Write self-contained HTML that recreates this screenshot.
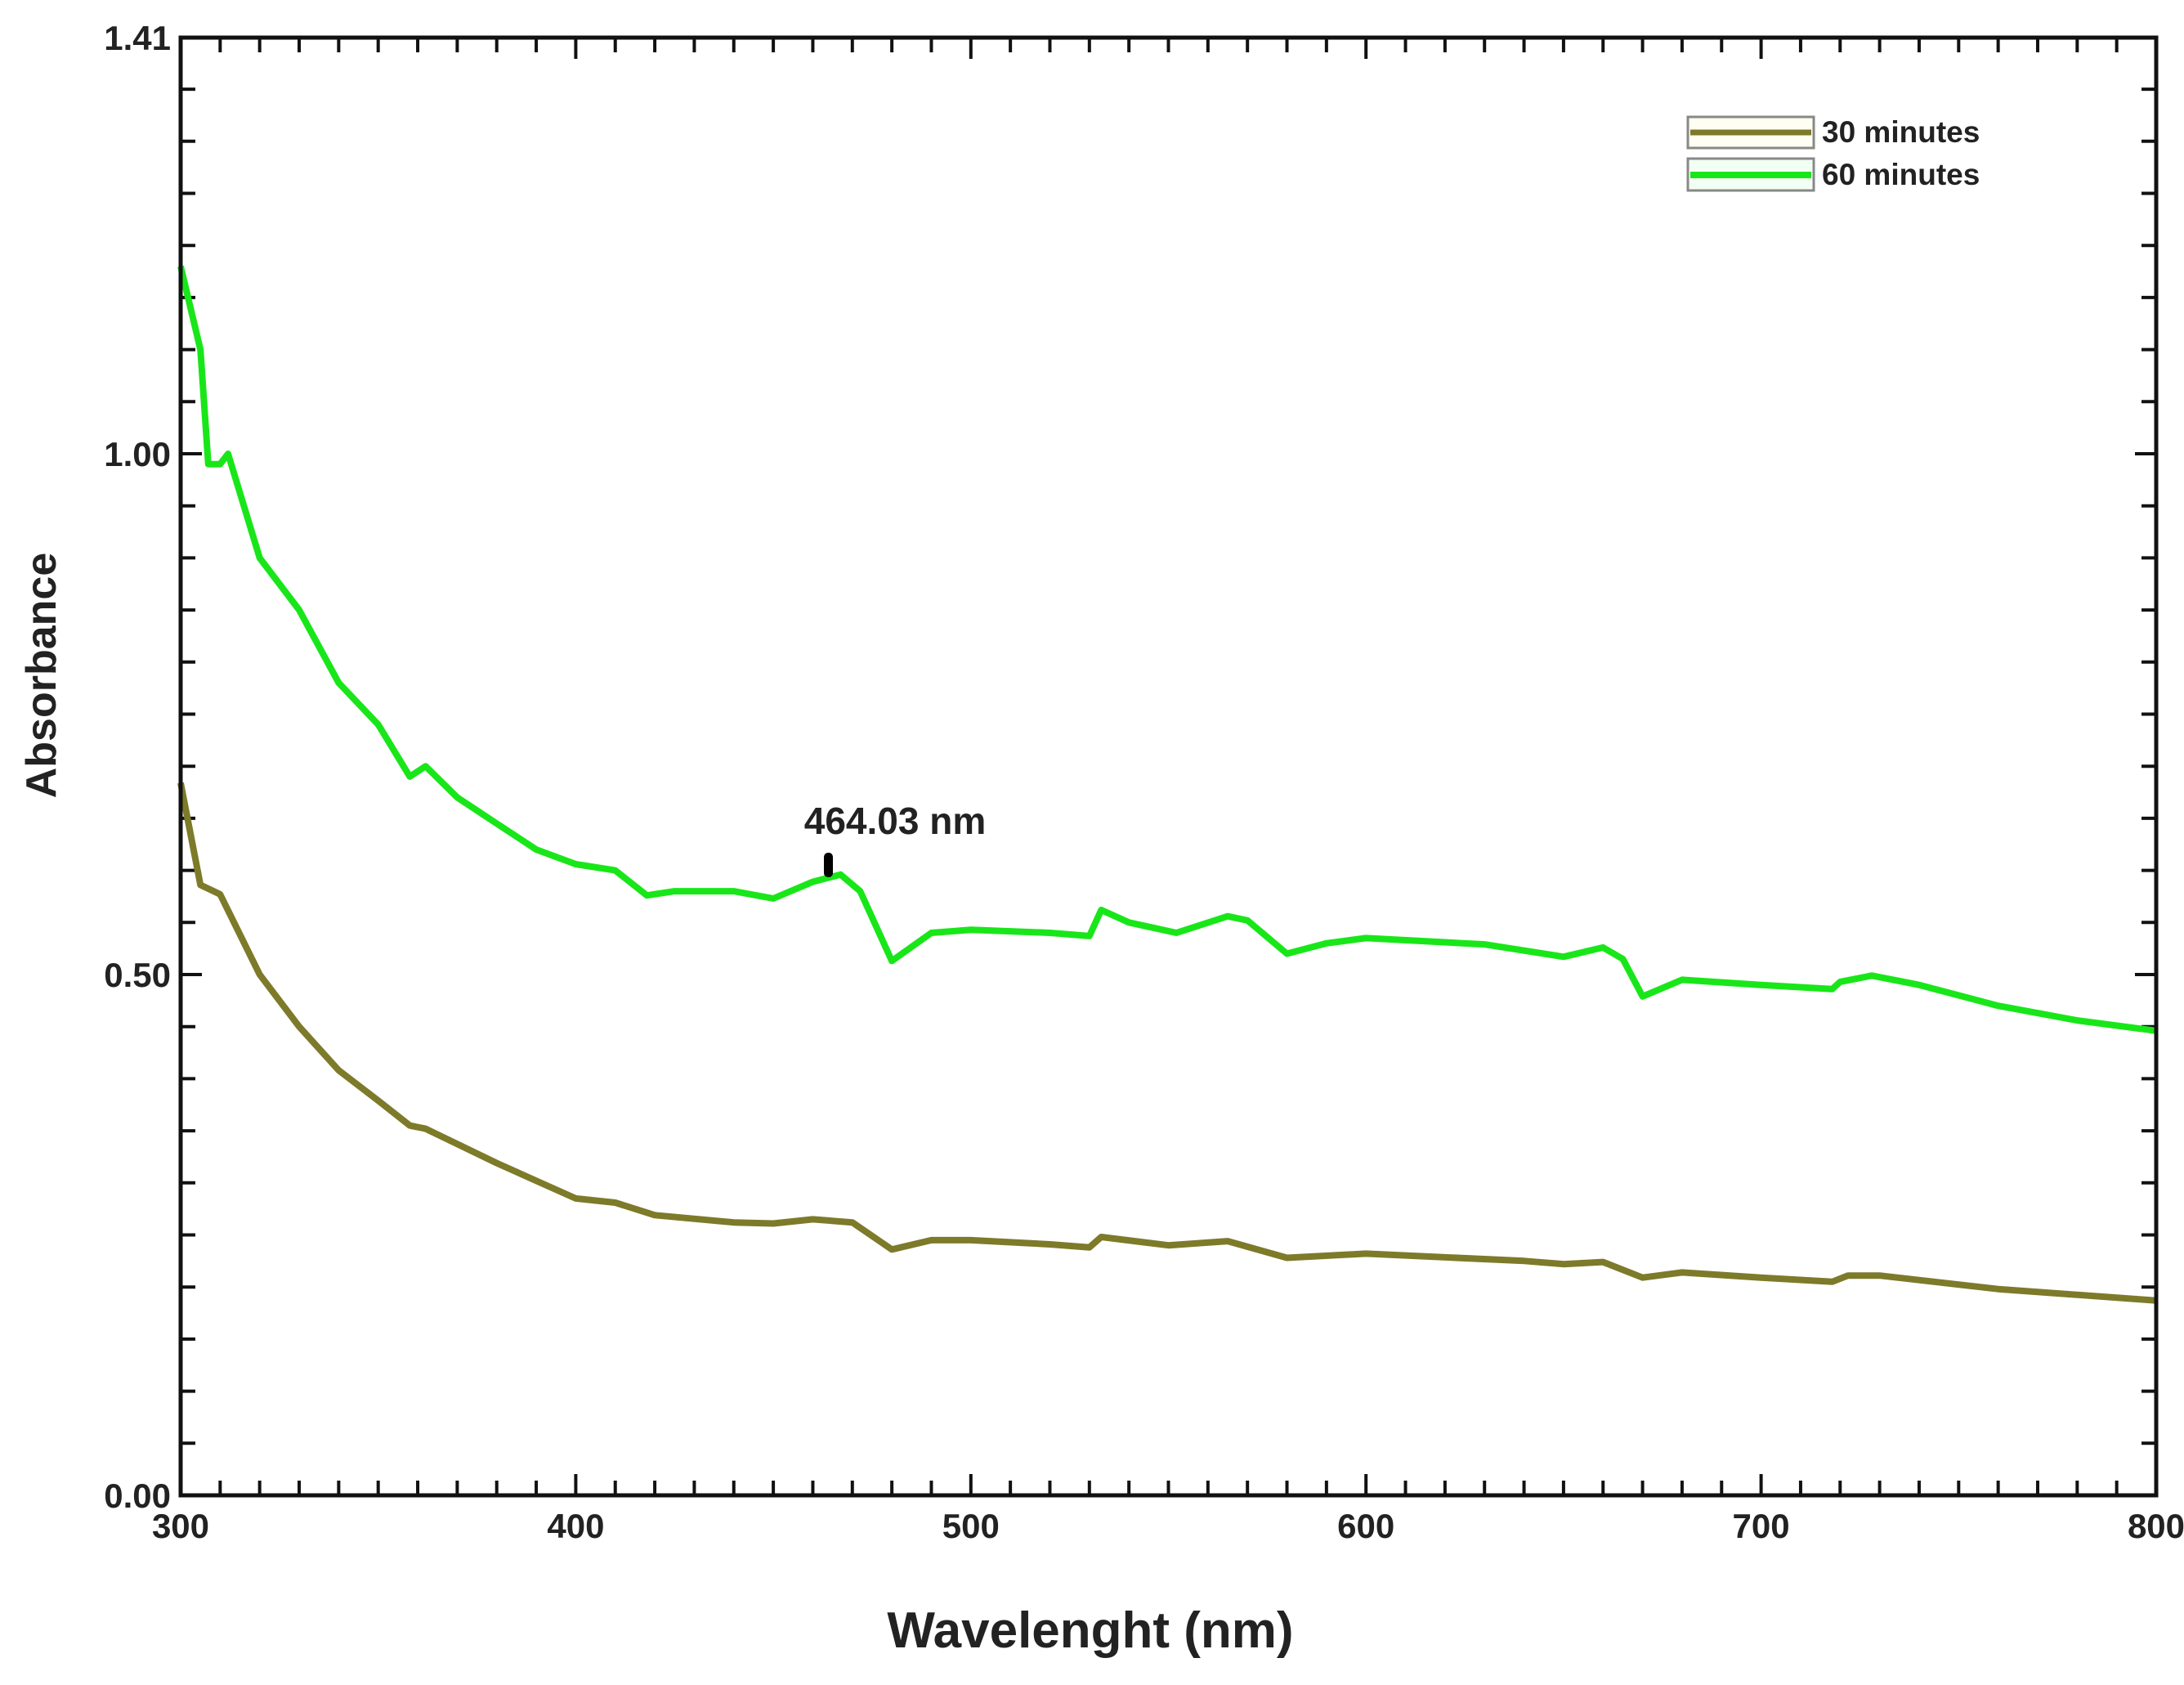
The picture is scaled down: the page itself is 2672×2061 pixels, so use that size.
<!DOCTYPE html>
<html><head><meta charset="utf-8"><style>
html,body{margin:0;padding:0;background:#fff;}
svg{display:block;font-family:"Liberation Sans",sans-serif;font-weight:bold;}
</style></head><body>
<svg id="chart" width="2672" height="2061" viewBox="0 0 2672 2061" xmlns="http://www.w3.org/2000/svg">
<g id="ticks"></g>
<g id="series"></g>
<rect x="221" y="46" width="2417" height="1783" fill="none" stroke="#111" stroke-width="5"/>
<text transform="translate(68,826) rotate(-90)" text-anchor="middle" font-size="52" fill="#222">Absorbance</text>
<text x="1334" y="2015" text-anchor="middle" font-size="62" fill="#222">Wavelenght (nm)</text>
<text x="1095" y="1020" text-anchor="middle" font-size="46" fill="#222">464.03 nm</text>
<rect x="1008" y="1043" width="11" height="30" rx="5" fill="#000"/>
<g>
<rect x="2065" y="143" width="154" height="38" fill="#fffef2" stroke="#888" stroke-width="3"/>
<line x1="2068" y1="162" x2="2216" y2="162" stroke="#7d7a2a" stroke-width="7"/>
<text x="2229" y="174" font-size="37" fill="#222">30 minutes</text>
<rect x="2065" y="194" width="154" height="39" fill="#f2fff4" stroke="#888" stroke-width="3"/>
<line x1="2068" y1="214" x2="2216" y2="214" stroke="#19e619" stroke-width="8"/>
<text x="2229" y="226" font-size="37" fill="#222">60 minutes</text>
</g>
</svg>
<script>
const yTickValues = [0, 0.5, 1.0, 1.41];
const yTickLabels = ["0.00", "0.50", "1.00", "1.41"];
const xTickValues = [300, 400, 500, 600, 700, 800];
const xTickLabels = ["300", "400", "500", "600", "700", "800"];
const wl60 = [300,305,307,310,312,320,330,340,350,358,362,370,380,390,400,410,418,425,440,450,460,467,472,480,490,500,520,530,533,540,552,565,570,580,590,600,630,650,660,665,670,680,700,718,720,728,740,760,780,800];
const abs60 = [1.18,1.10,0.99,0.99,1.00,0.90,0.85,0.78,0.74,0.69,0.70,0.67,0.645,0.62,0.606,0.60,0.576,0.58,0.58,0.573,0.589,0.596,0.58,0.513,0.54,0.543,0.54,0.537,0.562,0.55,0.54,0.556,0.552,0.52,0.53,0.535,0.529,0.517,0.526,0.515,0.479,0.495,0.49,0.486,0.493,0.499,0.49,0.47,0.456,0.446];
const wl30 = [300,305,310,320,330,340,350,358,362,380,400,410,420,440,450,460,470,480,490,500,520,530,533,550,565,580,600,640,650,660,670,680,700,718,722,730,760,800];
const abs30 = [0.684,0.586,0.577,0.50,0.45,0.408,0.379,0.355,0.352,0.319,0.285,0.281,0.269,0.262,0.261,0.265,0.262,0.236,0.245,0.245,0.241,0.238,0.248,0.240,0.244,0.228,0.232,0.225,0.222,0.224,0.209,0.214,0.209,0.205,0.211,0.211,0.198,0.187];

const X0=221, X1=2638, Y0=1829, YPER=1274;
function xs(v){return X0+(v-300)/500*(X1-X0);}
function ys(v){return Y0-v*YPER;}
const NS="http://www.w3.org/2000/svg";
const tg=document.getElementById('ticks');
function ln(x1,y1,x2,y2,w){const l=document.createElementNS(NS,'line');l.setAttribute('x1',x1);l.setAttribute('y1',y1);l.setAttribute('x2',x2);l.setAttribute('y2',y2);l.setAttribute('stroke','#111');l.setAttribute('stroke-width',w);tg.appendChild(l);return l;}
for(let w=310;w<800;w+=10){const x=xs(w);const major=(w%100===0);const len=major?26:18;
 const a=ln(x,Y0,x,Y0-len,4);
 
 
 const b=ln(x,46,x,46+len,4);
 
 }
for(let i=1;i<28;i++){const v=i*0.05;const y=ys(v);if(y<50)continue;const major=(i%10===0);const len=major?26:18;
 const a=ln(X0,y,X0+len,y,4);
 
 
 const b=ln(X1,y,X1-len,y,4);
 
 }
const svg=document.getElementById('chart');
yTickValues.forEach((v,i)=>{const t=document.createElementNS(NS,'text');
 const y=(v>1.4)?46:ys(v);
 t.setAttribute('x',X0-12);t.setAttribute('y',y+15);t.setAttribute('text-anchor','end');t.setAttribute('font-size','42');t.setAttribute('fill','#222');
 t.textContent=yTickLabels[i];
 
 
 svg.appendChild(t);});
xTickValues.forEach((v,i)=>{const t=document.createElementNS(NS,'text');
 t.setAttribute('x',xs(v));t.setAttribute('y',Y0+52);t.setAttribute('text-anchor','middle');t.setAttribute('font-size','42');t.setAttribute('fill','#222');
 t.textContent=xTickLabels[i];
 
 
 svg.appendChild(t);});
const sg=document.getElementById('series');
function series(wl,ab,color,name){const p=document.createElementNS(NS,'polyline');
 p.setAttribute('points',wl.map((w,i)=>xs(w).toFixed(1)+','+ys(ab[i]).toFixed(1)).join(' '));
 p.setAttribute('fill','none');p.setAttribute('stroke',color);p.setAttribute('stroke-width','8');p.setAttribute('stroke-linejoin','round');
 
 
 sg.appendChild(p);}
series(wl30,abs30,'#7d7a2a','line-30-minutes');
series(wl60,abs60,'#19e619','line-60-minutes');
</script>
</body></html>
